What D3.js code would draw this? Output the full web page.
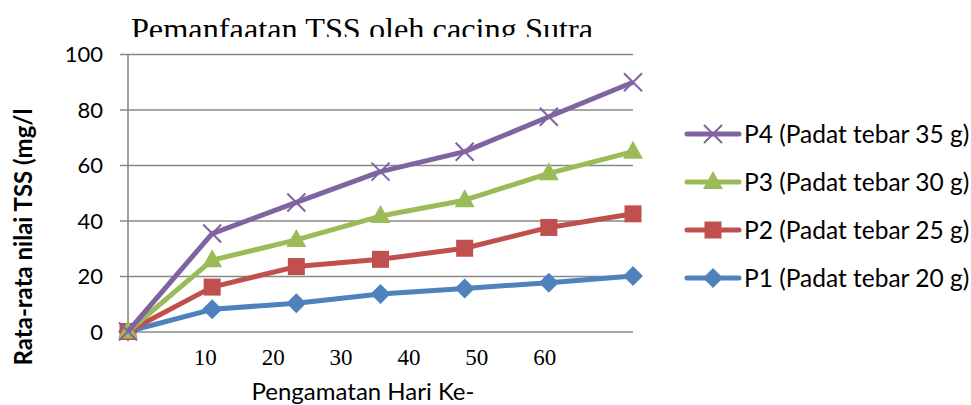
<!DOCTYPE html>
<html><head><meta charset="utf-8">
<script src="https://cdn.jsdelivr.net/npm/d3@7"></script>
<style>body{margin:0;background:#fff}svg{display:block}</style>
</head><body>
<svg id="c" width="971" height="405"></svg>
<script>
const title = "Pemanfaatan TSS oleh cacing Sutra";
const yTitle = "Rata-rata nilai TSS (mg/l";
const xTitle = "Pengamatan Hari Ke-";
const observations = [0, 1, 2, 3, 4, 5, 6];
const xTickLabels = [10, 20, 30, 40, 50, 60];
const yTicks = [0, 20, 40, 60, 80, 100];
const seriesNames = ["P1 (Padat tebar 20 g)", "P2 (Padat tebar 25 g)", "P3 (Padat tebar 30 g)", "P4 (Padat tebar 35 g)"];
const p1 = [0, 8, 10.2, 13.5, 15.5, 17.6, 20];
const p2 = [0, 16, 23.4, 26, 30, 37.5, 42.4];
const p3 = [0, 25.7, 33, 41.6, 47.3, 57, 64.8];
const p4 = [0, 35.3, 46.5, 57.6, 64.8, 77.4, 89.8];

const colors = ["#4F81BD", "#C0504D", "#9BBB59", "#8064A2"];
const markers = ["diamond", "square", "triangle", "cross"];
const series = [p1, p2, p3, p4].map((v, i) => ({name: seriesNames[i], values: v, color: colors[i], marker: markers[i]}));

const svg = d3.select("#c");
const L = 128, R = 633, T = 54, B = 331.5;
const x = d3.scalePoint().domain(observations).range([L, R]);
const y = d3.scaleLinear().domain([0, 100]).range([B, T]);
const xLab = d3.scaleLinear().domain([0, 70]).range([137, 612]);

// gridlines + y axis
const yAxis = d3.axisLeft(y).tickValues(yTicks).tickSize(-(R - L)).tickSizeOuter(0);
const ga = svg.append("g").attr("transform", `translate(${L},0)`).call(yAxis);
ga.select(".domain").remove();
ga.selectAll(".tick line").attr("x1", -8).attr("stroke", "#888").attr("stroke-width", 1.6);
ga.selectAll(".tick text").attr("font-family", "Lato").attr("font-size", 22).attr("fill", "#000").attr("dy", "0.36em").attr("x", -25);
svg.append("line").attr("x1", L).attr("x2", L).attr("y1", T).attr("y2", B + 1)
  .attr("stroke", "#888").attr("stroke-width", 1.6);

// x tick labels (serif)
const xa = d3.axisBottom(xLab).tickValues(xTickLabels).tickSize(0).tickPadding(0);
const gx = svg.append("g").attr("transform", `translate(0,365)`).call(xa);
gx.select(".domain").remove();
gx.selectAll(".tick text").attr("font-family", "Liberation Serif").attr("font-size", 23).attr("fill", "#000").attr("dy", 0);

// titles
svg.append("defs").append("clipPath").attr("id", "tc").append("rect").attr("x", 0).attr("y", 0).attr("width", 971).attr("height", 37);
svg.append("text").attr("clip-path", "url(#tc)").attr("x", 362).attr("y", 40).attr("text-anchor", "middle")
  .attr("font-family", "Liberation Serif").attr("font-size", 32.3).text(title);
svg.append("text").attr("transform", "translate(32,237) rotate(-90)").attr("text-anchor", "middle")
  .attr("font-family", "Lato").attr("font-weight", "bold").attr("font-size", 24).text(yTitle);
svg.append("text").attr("x", 363).attr("y", 400).attr("text-anchor", "middle")
  .attr("font-family", "Lato").attr("font-size", 24).text(xTitle);

function drawMarker(g, type, color) {
  if (type === "diamond") g.append("path").attr("d", "M0,-10L10,0L0,10L-10,0Z").attr("fill", color);
  else if (type === "square") g.append("rect").attr("x", -8.5).attr("y", -8.5).attr("width", 17).attr("height", 17).attr("fill", color);
  else if (type === "triangle") g.append("path").attr("d", "M0,-11L10,7L-10,7Z").attr("fill", color);
  else g.append("path").attr("d", "M-9,-9L9,9M-9,9L9,-9").attr("stroke", color).attr("stroke-width", 2).attr("fill", "none");
}

const line = d3.line().x((d, i) => x(observations[i])).y(d => y(d));
series.forEach(s => {
  const g = svg.append("g");
  g.append("path").attr("d", line(s.values)).attr("fill", "none").attr("stroke", s.color)
    .attr("stroke-width", 5).attr("stroke-linejoin", "round");
  s.values.forEach((v, i) => {
    drawMarker(g.append("g").attr("transform", `translate(${x(observations[i])},${y(v)})`), s.marker, s.color);
  });
});

// legend
const legendY = d3.scalePoint().domain(seriesNames.slice().reverse()).range([134, 278]);
series.forEach(s => {
  const g = svg.append("g").attr("transform", `translate(0,${legendY(s.name)})`);
  g.append("line").attr("x1", 687).attr("x2", 739).attr("stroke", s.color).attr("stroke-width", 5).attr("stroke-linecap", "round");
  drawMarker(g.append("g").attr("transform", "translate(713,0)"), s.marker, s.color);
  g.append("text").attr("x", 744).attr("dy", "0.36em").attr("font-family", "Lato").attr("font-size", 24.5).text(s.name);
});
</script>
</body></html>
